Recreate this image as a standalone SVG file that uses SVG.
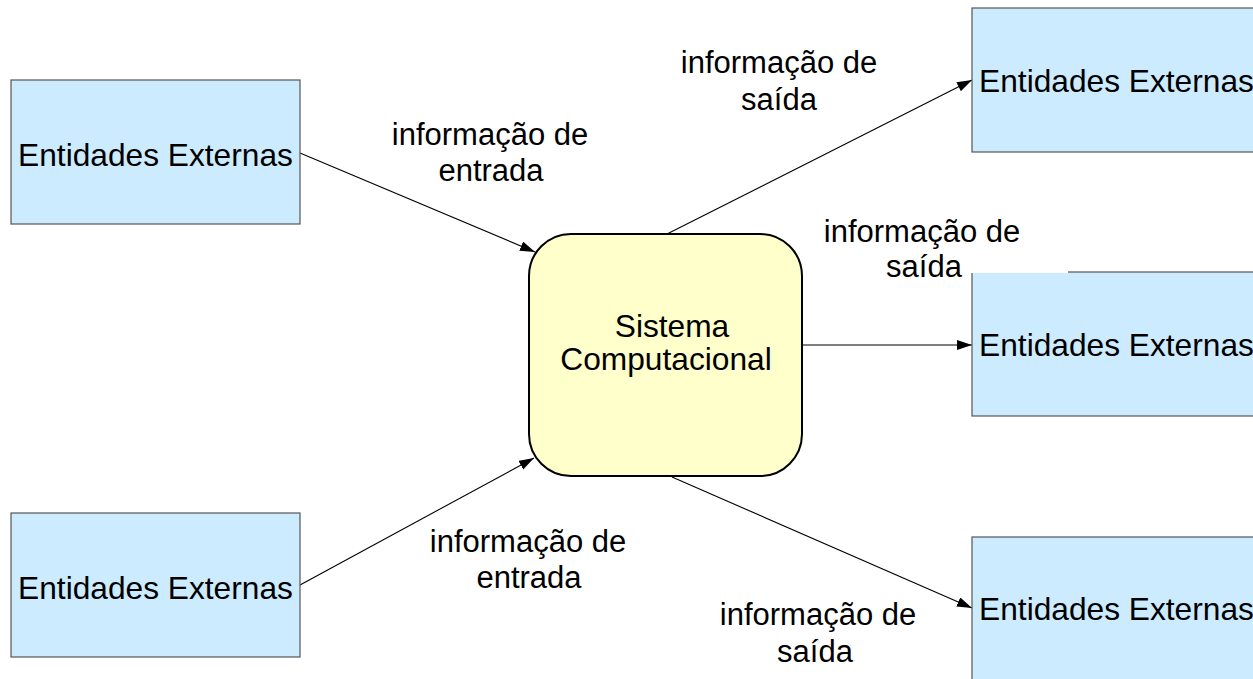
<svg xmlns="http://www.w3.org/2000/svg" width="1253" height="679" viewBox="0 0 1253 679">
<style>
  .ext { fill: #CCEBFF; stroke: #555555; stroke-width: 1.2; }
  .sys { fill: #FFFFCC; stroke: #000000; stroke-width: 2; }
  .t { font-family: "Liberation Sans", Arial, sans-serif; font-size: 31px; fill: #000000; text-anchor: middle; }
  .big { font-size: 31.7px; }
  .conn { stroke: #000000; stroke-width: 1.1; fill: none; marker-end: url(#arrow); }
</style>
<defs>
  <marker id="arrow" markerUnits="userSpaceOnUse" markerWidth="16" markerHeight="11" refX="15" refY="5" orient="auto">
    <path d="M0,0 L15,5 L0,10 Z" fill="#000000"/>
  </marker>
</defs>
<rect width="1253" height="679" fill="#FFFFFF"/>
<g id="connectors">
  <line class="conn" x1="300" y1="153" x2="535" y2="252"/>
  <line class="conn" x1="300" y1="585" x2="534" y2="458"/>
  <line class="conn" x1="667" y1="234" x2="972" y2="80"/>
  <line class="conn" x1="803" y1="345" x2="972" y2="345"/>
  <line class="conn" x1="672" y1="477" x2="972" y2="608"/>
</g>
<g id="ext-left-top">
  <rect class="ext" x="11" y="80" width="289" height="144"/>
  <text class="t big" x="155.5" y="166">Entidades Externas</text>
</g>
<g id="ext-left-bottom">
  <rect class="ext" x="11" y="513" width="289" height="144"/>
  <text class="t big" x="155.5" y="599">Entidades Externas</text>
</g>
<g id="ext-right-top">
  <rect class="ext" x="972" y="8" width="289" height="144"/>
  <text class="t big" x="1116.5" y="92">Entidades Externas</text>
</g>
<g id="ext-right-middle">
  <rect class="ext" x="972" y="272" width="289" height="144"/>
  <rect x="971" y="270" width="97" height="3" fill="#FFFFFF"/>
  <text class="t big" x="1116.5" y="356">Entidades Externas</text>
</g>
<g id="ext-right-bottom">
  <rect class="ext" x="972" y="537" width="289" height="144"/>
  <text class="t big" x="1116.5" y="620">Entidades Externas</text>
</g>
<g id="sistema">
  <rect class="sys" x="529" y="234" width="273" height="242" rx="42" ry="42"/>
  <text class="t big" x="672" y="337">Sistema</text>
  <text class="t big" x="666" y="370">Computacional</text>
</g>
<g id="labels">
  <text class="t" x="490" y="145">informação de</text>
  <text class="t" x="491" y="181">entrada</text>
  <text class="t" x="779" y="73">informação de</text>
  <text class="t" x="779" y="110">saída</text>
  <text class="t" x="922" y="242">informação de</text>
  <text class="t" x="924" y="277">saída</text>
  <text class="t" x="528" y="552">informação de</text>
  <text class="t" x="529" y="588">entrada</text>
  <text class="t" x="818" y="625">informação de</text>
  <text class="t" x="815" y="662">saída</text>
</g>
</svg>
